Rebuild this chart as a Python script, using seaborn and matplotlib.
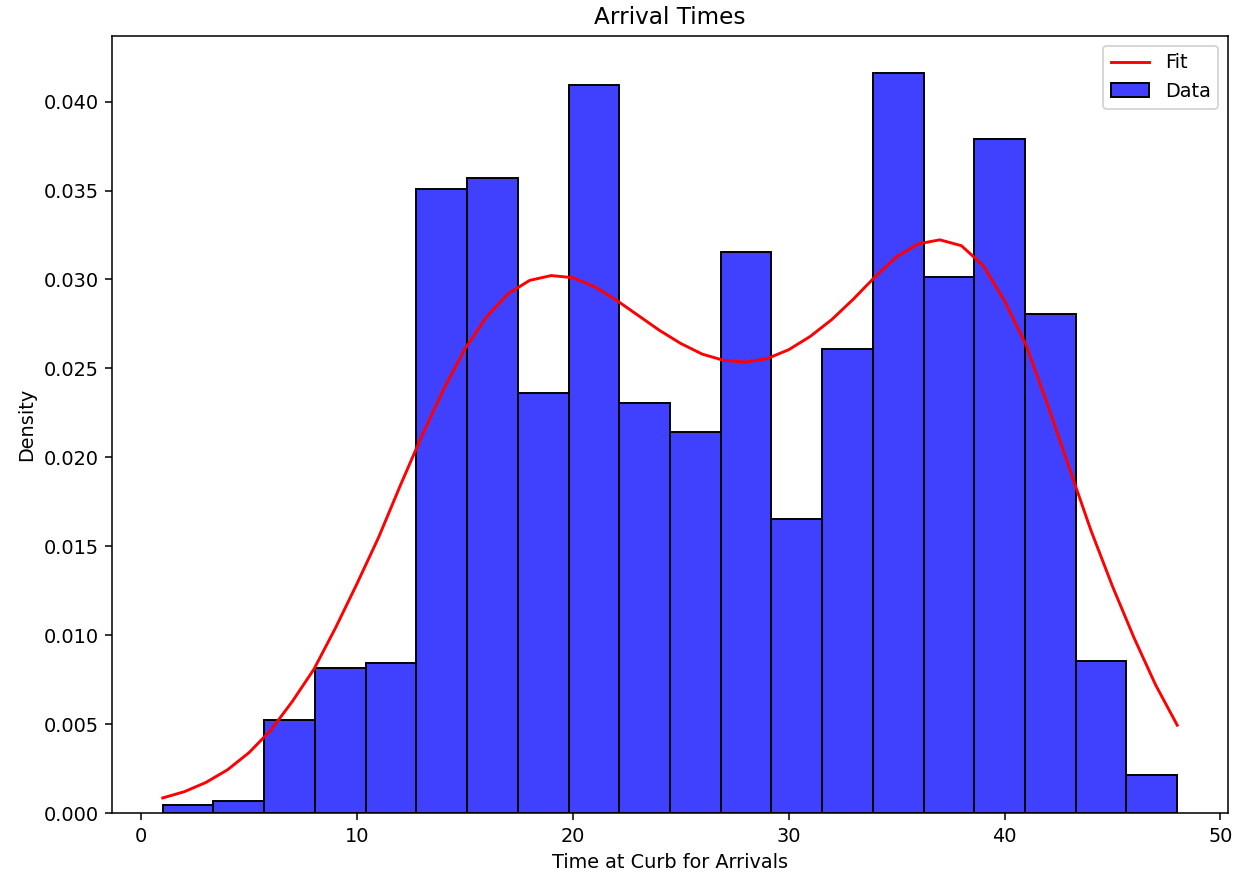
import numpy as np
import pandas as pd
import matplotlib
matplotlib.use("Agg")
import matplotlib.pyplot as plt
import seaborn as sns

# Histogram bins (20 equal bins from 1 to 48) and density per bin
bin_edges = [float(v) for v in np.linspace(1.0, 48.0, 21)]
bin_density = [
    0.00045, 0.00069, 0.00524, 0.00813, 0.00841,
    0.03506, 0.03571, 0.02363, 0.04094, 0.02307,
    0.02145, 0.03157, 0.01652, 0.02607, 0.04161,
    0.03013, 0.03790, 0.02805, 0.00856, 0.00215,
]
bin_centers = [(a + b) / 2 for a, b in zip(bin_edges[:-1], bin_edges[1:])]

# Fitted density curve, sampled at each minute
fit_x = list(range(1, 49))
fit_y = [0.00085, 0.00120, 0.00172, 0.00243, 0.00340, 0.00465, 0.00627, 0.00808,
         0.01040, 0.01290, 0.01550, 0.01840, 0.02120, 0.02380, 0.02610, 0.02790,
         0.02920, 0.02995, 0.03022, 0.03010, 0.02960, 0.02885, 0.02800, 0.02715,
         0.02640, 0.02580, 0.02545, 0.02536, 0.02555, 0.02605, 0.02680, 0.02775,
         0.02890, 0.03015, 0.03128, 0.03200, 0.03223, 0.03190, 0.03080, 0.02880,
         0.02630, 0.02295, 0.01940, 0.01590, 0.01275, 0.00985, 0.00720, 0.00494]

hist_df = pd.DataFrame({"time": bin_centers, "density": bin_density})
fit_df = pd.DataFrame({"time": fit_x, "density": fit_y})

fig, ax = plt.subplots(figsize=(1245 / 139, 882 / 139), dpi=139)
fig.subplots_adjust(left=0.09, right=0.9863, bottom=0.0782, top=0.9592)

sns.lineplot(data=fit_df, x="time", y="density", color="red", label="Fit", ax=ax)
sns.histplot(data=hist_df, x="time", weights="density", bins=bin_edges,
             stat="count", color="blue", edgecolor="black", label="Data", ax=ax)

ax.set_title("Arrival Times")
ax.set_xlabel("Time at Curb for Arrivals")
ax.set_ylabel("Density")
ax.legend(loc="upper right")

fig.savefig("out.png", dpi=139)
